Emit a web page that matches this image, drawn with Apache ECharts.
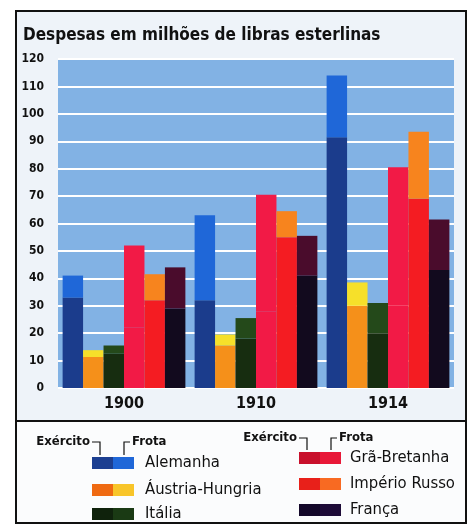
<!DOCTYPE html>
<html lang="pt">
  <head>
    <meta charset="UTF-8" />
    <title>Despesas em milhões de libras esterlinas</title>
    <script src="https://cdn.jsdelivr.net/npm/echarts@6/dist/echarts.min.js"></script>
    <style>
      body { margin: 0; background: #fff; }
    </style>
  </head>
  <body>
    <div id="main" style="width: 473px; height: 528px"></div>
    <script type="text/javascript">
      // dados (milhões de libras)
      var anos = ["1900", "1910", "1914"];
      var alemanhaExercito = [33, 32, 91.5];
      var alemanhaFrota = [8, 31, 22.5];
      var austriaExercito = [11.3, 15.5, 30];
      var austriaFrota = [2.5, 4, 8.5];
      var italiaExercito = [12.5, 18, 20];
      var italiaFrota = [3, 7.5, 11];
      var bretanhaExercito = [22, 28, 30];
      var bretanhaFrota = [30, 42.5, 50.5];
      var russiaExercito = [32, 55, 69];
      var russiaFrota = [9.5, 9.5, 24.5];
      var francaExercito = [29, 41, 43];
      var francaFrota = [15, 14.5, 18.5];
      var yTicks = [0, 10, 20, 30, 40, 50, 60, 70, 80, 90, 100, 110, 120];

      var paises = [
        { nome: "Alemanha", ex: alemanhaExercito, fr: alemanhaFrota, cores: ["#1b3c8c", "#1f67d8"] },
        { nome: "Áustria-Hungria", ex: austriaExercito, fr: austriaFrota, cores: ["#f5901a", "#f6e02a"] },
        { nome: "Itália", ex: italiaExercito, fr: italiaFrota, cores: ["#172d10", "#24491a"] },
        { nome: "Grã-Bretanha", ex: bretanhaExercito, fr: bretanhaFrota, cores: ["#f21a46", "#f21a46"] },
        { nome: "Império Russo", ex: russiaExercito, fr: russiaFrota, cores: ["#f41c22", "#f7841e"] },
        { nome: "França", ex: francaExercito, fr: francaFrota, cores: ["#120a1e", "#4a0c2c"] }
      ];
      var legendaCores = [
        ["#1c3f91", "#1f67d8"],
        ["#ef6a12", "#f8c52a"],
        ["#0f220c", "#1a3a14"],
        ["#c8102c", "#e81838"],
        ["#e8201a", "#f86a22"],
        ["#14082a", "#1e0c38"]
      ];

      var font = "DejaVu Sans Condensed";
      var series = [];
      paises.forEach(function (p) {
        series.push({
          name: p.nome + " Exército", type: "bar", stack: p.nome, data: p.ex,
          itemStyle: { color: p.cores[0] }, barGap: "0%", barCategoryGap: "7%"
        });
        series.push({
          name: p.nome + " Frota", type: "bar", stack: p.nome, data: p.fr,
          itemStyle: { color: p.cores[1] }, barGap: "0%", barCategoryGap: "7%"
        });
      });

      // legenda desenhada à mão
      var graphic = [
        { type: "rect", z: -10, shape: { x: 16, y: 11, width: 450, height: 410 }, style: { fill: "#eef3f9" } },
        { type: "rect", z: -10, shape: { x: 16, y: 421, width: 450, height: 102 }, style: { fill: "#fbfcfd" } },
        { type: "rect", z: 100, shape: { x: 16, y: 11, width: 450, height: 512 }, style: { fill: "none", stroke: "#111", lineWidth: 2 } },
        { type: "line", z: 100, shape: { x1: 16, y1: 421, x2: 466, y2: 421 }, style: { stroke: "#111", lineWidth: 2 } }
      ];
      var colunas = [
        { sx: 92, tx: 145, ys: [463, 490, 514], hy: 442 },
        { sx: 299, tx: 350, ys: [458, 484, 510], hy: 438 }
      ];
      colunas.forEach(function (c, ci) {
        graphic.push({ type: "text", z: 100, style: { text: "Exército", x: c.sx - 2, y: c.hy, font: "bold 13px '" + font + "'", fill: "#111", textAlign: "right", textVerticalAlign: "middle" } });
        graphic.push({ type: "polyline", z: 100, shape: { points: [[c.sx, c.hy], [c.sx + 8, c.hy], [c.sx + 8, c.ys[0] - 8]] }, style: { stroke: "#111", lineWidth: 1.2, fill: "none" } });
        graphic.push({ type: "polyline", z: 100, shape: { points: [[c.sx + 32, c.ys[0] - 8], [c.sx + 32, c.hy], [c.sx + 38, c.hy]] }, style: { stroke: "#111", lineWidth: 1.2, fill: "none" } });
        graphic.push({ type: "text", z: 100, style: { text: "Frota", x: c.sx + 40, y: c.hy, font: "bold 13px '" + font + "'", fill: "#111", textVerticalAlign: "middle" } });
        for (var i = 0; i < 3; i++) {
          var k = ci * 3 + i;
          var y = c.ys[i];
          graphic.push({ type: "rect", z: 100, shape: { x: c.sx, y: y - 6, width: 21, height: 12 }, style: { fill: legendaCores[k][0] } });
          graphic.push({ type: "rect", z: 100, shape: { x: c.sx + 21, y: y - 6, width: 21, height: 12 }, style: { fill: legendaCores[k][1] } });
          graphic.push({ type: "text", z: 100, style: { text: paises[k].nome, x: c.tx, y: y, font: "16.5px '" + font + "'", fill: "#111", textVerticalAlign: "middle" } });
        }
      });

      var myChart = echarts.init(document.getElementById("main"));
      var option = {
        animation: false,
        backgroundColor: "#ffffff",
        textStyle: { fontFamily: font },
        title: {
          text: "Despesas em milhões de libras esterlinas",
          left: 18, top: 22,
          textStyle: { fontFamily: font, fontSize: 17, fontWeight: "bold", color: "#111" }
        },
        grid: {
          left: 58, right: 19, top: 59, bottom: 140,
          show: true, backgroundColor: "#82b2e4", borderWidth: 0
        },
        xAxis: {
          type: "category",
          data: anos,
          axisLine: { show: false },
          axisTick: { show: false },
          axisLabel: { fontSize: 16, fontWeight: "bold", color: "#111", margin: 8, fontFamily: font }
        },
        yAxis: {
          type: "value",
          min: yTicks[0], max: yTicks[yTicks.length - 1], interval: 10,
          axisLine: { show: false },
          axisTick: { show: false },
          axisLabel: { fontSize: 12, fontWeight: "bold", color: "#111", margin: 14, fontFamily: font },
          splitLine: { lineStyle: { color: "#ffffff", width: 2 } }
        },
        graphic: graphic,
        series: series
      };
      myChart.setOption(option);
    </script>
  </body>
</html>
